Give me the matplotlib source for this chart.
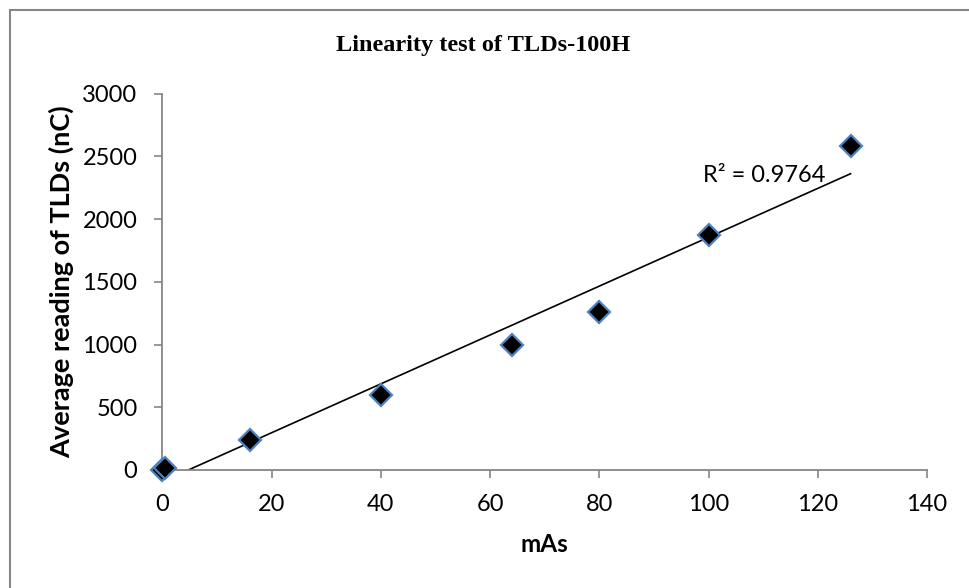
import numpy as np
import matplotlib
matplotlib.use("Agg")
import matplotlib.pyplot as plt
from matplotlib.patches import Rectangle

# Exposure (mAs) and mean TLD reading (nC)
mas = [0, 0.5, 16, 40, 64, 80, 100, 126]
reading = [0, 15, 240, 600, 1000, 1260, 1870, 2585]
x_ticks = [0, 20, 40, 60, 80, 100, 120, 140]
y_ticks = [0, 500, 1000, 1500, 2000, 2500, 3000]
r2_label = "R\u00b2 = 0.9764"

title = "Linearity test of TLDs-100H"
x_label = "mAs"
y_label = "Average reading of TLDs (nC)"

plt.rcParams["font.family"] = ["Lato", "DejaVu Sans"]

fig = plt.figure(figsize=(9.7, 5.88), dpi=100)
ax = fig.add_axes([0.1675, 0.2007, 0.9557 - 0.1675, 0.8406 - 0.2007])

# linear trendline over the data range
slope, intercept = np.polyfit(mas, reading, 1)
xf = np.array([min(mas), max(mas)])
ax.plot(xf, slope * xf + intercept, color="black", lw=1.2, zorder=2)

ax.plot(mas, reading, linestyle="none", marker="D", markersize=11,
        markerfacecolor="black", markeredgecolor="#4F81BD",
        markeredgewidth=1.6, zorder=3, clip_on=False)

ax.text(99, 2350, r2_label, fontsize=17, ha="left", va="center")

ax.set_xlim(0, 140)
ax.set_ylim(0, 3000)
ax.set_xticks(x_ticks)
ax.set_yticks(y_ticks)
ax.tick_params(axis="both", labelsize=17, length=6, width=1.2,
               color="#868686", direction="out")
ax.tick_params(axis="y", pad=12)
ax.tick_params(axis="x", pad=11)
for side in ("top", "right"):
    ax.spines[side].set_visible(False)
for side in ("left", "bottom"):
    ax.spines[side].set_color("#868686")
    ax.spines[side].set_linewidth(1.3)

ax.set_xlabel(x_label, fontsize=17.5, fontweight="bold")
ax.set_ylabel(y_label, fontsize=19.5, fontweight="bold")
ax.xaxis.set_label_coords(0.5, -(545 - 470) / (470 - 93.7), transform=ax.transAxes)
ax.yaxis.set_label_coords(-(162.5 - 62) / (927 - 162.5), 0.5, transform=ax.transAxes)
ax.xaxis.label.set_va("center")
ax.yaxis.label.set_va("center")

fig.text(0.498, 1 - 45 / 588, title, fontsize=17.5, fontweight="bold",
         family="Liberation Serif", ha="center", va="center")

# chart-area frame
fig.patches.append(Rectangle((10 / 970, -0.1), 1.2, 1 - 10 / 588 + 0.1,
                             transform=fig.transFigure, fill=False,
                             edgecolor="#868686", linewidth=1.5))

fig.savefig("out.png", dpi=100)
